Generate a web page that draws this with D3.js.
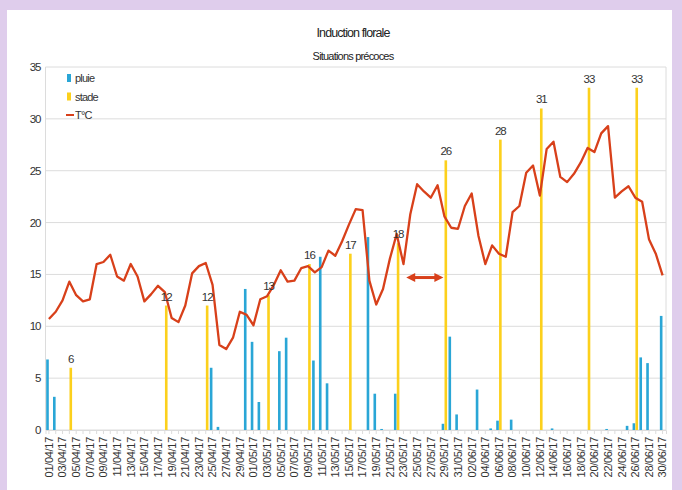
<!DOCTYPE html>
<html>
<head>
<meta charset="utf-8">
<script src="https://cdn.jsdelivr.net/npm/d3@7"></script>
<style>
  body { margin: 0; background: #dfcdec; }
  text { font-family: "Liberation Sans", Arial, sans-serif; }
</style>
</head>
<body>
<div id="vis"></div>
<script>
// Induction florale - situations précoces
const FRAME_WIDTH = 682;
const FRAME_HEIGHT = 490;
const MARGINS = {left: 45.5, right: 16, top: 67, bottom: 60};

const DATES = [
  "01/04/17","02/04/17","03/04/17","04/04/17","05/04/17","06/04/17","07/04/17","08/04/17","09/04/17","10/04/17",
  "11/04/17","12/04/17","13/04/17","14/04/17","15/04/17","16/04/17","17/04/17","18/04/17","19/04/17","20/04/17",
  "21/04/17","22/04/17","23/04/17","24/04/17","25/04/17","26/04/17","27/04/17","28/04/17","29/04/17","30/04/17",
  "01/05/17","02/05/17","03/05/17","04/05/17","05/05/17","06/05/17","07/05/17","08/05/17","09/05/17","10/05/17",
  "11/05/17","12/05/17","13/05/17","14/05/17","15/05/17","16/05/17","17/05/17","18/05/17","19/05/17","20/05/17",
  "21/05/17","22/05/17","23/05/17","24/05/17","25/05/17","26/05/17","27/05/17","28/05/17","29/05/17","30/05/17",
  "31/05/17","01/06/17","02/06/17","03/06/17","04/06/17","05/06/17","06/06/17","07/06/17","08/06/17","09/06/17",
  "10/06/17","11/06/17","12/06/17","13/06/17","14/06/17","15/06/17","16/06/17","17/06/17","18/06/17","19/06/17",
  "20/06/17","21/06/17","22/06/17","23/06/17","24/06/17","25/06/17","26/06/17","27/06/17","28/06/17","29/06/17",
  "30/06/17"
];

// pluie (mm)
const PLUIE = [
  6.8, 3.2, 0, 0, 0, 0, 0, 0, 0, 0,
  0, 0, 0, 0, 0, 0, 0, 0, 0, 0,
  0, 0, 0, 0, 6.0, 0.3, 0, 0, 0, 13.6,
  8.5, 2.7, 0, 0, 7.6, 8.9, 0, 0, 0, 6.7,
  16.7, 4.5, 0, 0, 0, 0, 0, 18.6, 3.5, 0.1,
  0, 3.5, 0, 0, 0, 0, 0, 0, 0.6, 9.0,
  1.5, 0, 0, 3.9, 0, 0.15, 0.9, 0, 1.0, 0,
  0, 0, 0, 0, 0.15, 0, 0, 0, 0, 0,
  0, 0, 0.1, 0, 0, 0.4, 0.65, 7.0, 6.45, 0,
  11.0
];

// stade
const STADE = [
  0, 0, 0, 6, 0, 0, 0, 0, 0, 0,
  0, 0, 0, 0, 0, 0, 0, 12, 0, 0,
  0, 0, 0, 12, 0, 0, 0, 0, 0, 0,
  0, 0, 13, 0, 0, 0, 0, 0, 16, 0,
  0, 0, 0, 0, 17, 0, 0, 0, 0, 0,
  0, 18, 0, 0, 0, 0, 0, 0, 26, 0,
  0, 0, 0, 0, 0, 0, 28, 0, 0, 0,
  0, 0, 31, 0, 0, 0, 0, 0, 0, 33,
  0, 0, 0, 0, 0, 0, 33, 0, 0, 0,
  0
];

// T°C
const TEMP = [
  10.7, 11.4, 12.5, 14.3, 13.0, 12.4, 12.6, 16.0, 16.2, 16.9,
  14.8, 14.4, 16.0, 14.8, 12.4, 13.1, 13.9, 13.3, 10.8, 10.4,
  12.0, 15.1, 15.8, 16.1, 14.0, 8.2, 7.8, 8.9, 11.4, 11.1,
  10.1, 12.6, 12.9, 14.0, 15.4, 14.3, 14.4, 15.6, 15.8, 15.2,
  15.7, 17.3, 16.8, 18.2, 19.8, 21.3, 21.2, 14.4, 12.1, 13.6,
  16.5, 18.9, 16.0, 20.8, 23.7, 23.0, 22.4, 23.6, 20.6, 19.5,
  19.4, 21.6, 22.8, 18.7, 16.0, 17.8, 17.0, 16.7, 21.0, 21.6,
  24.8, 25.5, 22.6, 27.1, 27.8, 24.4, 23.9, 24.7, 25.8, 27.2,
  26.8, 28.6, 29.3, 22.4, 23.0, 23.5, 22.4, 22.0, 18.4, 17.0,
  14.9
];

const Y_TICKS = [0, 5, 10, 15, 20, 25, 30, 35];
const SERIES = ["pluie", "stade", "T°C"];
const COLORS = {pluie: "#2aa6d6", stade: "#fcd01c", "T°C": "#d8401a"};

// arrow annotation (from / to / level)
const ARROW = {from: "23/05/17", to: "29/05/17", value: 14.7};

const VIS_WIDTH = FRAME_WIDTH - MARGINS.left - MARGINS.right;
const VIS_HEIGHT = FRAME_HEIGHT - MARGINS.top - MARGINS.bottom;

const rows = DATES.map((d, i) => ({date: d, pluie: PLUIE[i], stade: STADE[i], temp: TEMP[i]}));

const svg = d3.select("#vis")
    .append("svg")
    .attr("width", FRAME_WIDTH)
    .attr("height", FRAME_HEIGHT);

// white panel
svg.append("rect")
    .attr("x", 7).attr("y", 10)
    .attr("width", 665).attr("height", FRAME_HEIGHT - 10)
    .attr("fill", "#fff");

const X_SCALE = d3.scaleBand()
    .domain(DATES)
    .range([MARGINS.left, MARGINS.left + VIS_WIDTH]);

const X_INNER = d3.scaleBand()
    .domain(["pluie", "stade"])
    .range([X_SCALE.bandwidth() * 0.1, X_SCALE.bandwidth() * 0.9])
    .paddingInner(0.08);

const Y_SCALE = d3.scaleLinear()
    .domain([0, 35])
    .range([MARGINS.top + VIS_HEIGHT, MARGINS.top]);

// grid
svg.append("g")
    .selectAll("line")
    .data(Y_TICKS)
    .enter()
    .append("line")
    .attr("x1", MARGINS.left)
    .attr("x2", MARGINS.left + VIS_WIDTH)
    .attr("y1", d => Y_SCALE(d))
    .attr("y2", d => Y_SCALE(d))
    .attr("stroke", "#dcdcdc")
    .attr("stroke-width", 1);

// frame sides
svg.append("line")
    .attr("x1", MARGINS.left).attr("x2", MARGINS.left)
    .attr("y1", MARGINS.top).attr("y2", MARGINS.top + VIS_HEIGHT)
    .attr("stroke", "#dcdcdc");
svg.append("line")
    .attr("x1", MARGINS.left + VIS_WIDTH).attr("x2", MARGINS.left + VIS_WIDTH)
    .attr("y1", MARGINS.top).attr("y2", MARGINS.top + VIS_HEIGHT)
    .attr("stroke", "#dcdcdc");

// y axis labels
svg.append("g")
    .selectAll("text")
    .data(Y_TICKS)
    .enter()
    .append("text")
    .attr("x", MARGINS.left - 5)
    .attr("y", d => Y_SCALE(d) + 4)
    .attr("text-anchor", "end")
    .attr("font-size", "11.5px")
    .attr("letter-spacing", "-1px")
    .attr("fill", "#333")
    .text(d => d);

// x axis
const xAxis = svg.append("g")
    .attr("transform", "translate(0," + (MARGINS.top + VIS_HEIGHT) + ")")
    .call(d3.axisBottom(X_SCALE)
        .tickValues(DATES)
        .tickSize(4)
        .tickFormat((d, i) => i % 2 === 0 ? d : ""));
xAxis.select(".domain").attr("stroke", "#dcdcdc");
xAxis.selectAll(".tick line").attr("stroke", "#dcdcdc");
xAxis.selectAll(".tick text")
    .attr("font-size", "11px")
    .attr("font-family", "Liberation Sans, Arial, sans-serif")
    .attr("fill", "#333")
    .attr("letter-spacing", "-0.3px")
    .attr("text-anchor", "end")
    .attr("transform", "rotate(-90)")
    .attr("x", -7)
    .attr("y", 0)
    .attr("dy", "0.35em");

// pluie bars
svg.append("g")
    .selectAll("rect")
    .data(rows.filter(d => d.pluie > 0))
    .enter()
    .append("rect")
    .attr("x", d => X_SCALE(d.date) + X_INNER("pluie"))
    .attr("width", X_INNER.bandwidth())
    .attr("y", d => Y_SCALE(d.pluie))
    .attr("height", d => Y_SCALE(0) - Y_SCALE(d.pluie))
    .attr("fill", COLORS.pluie);

// stade bars
svg.append("g")
    .selectAll("rect")
    .data(rows.filter(d => d.stade > 0))
    .enter()
    .append("rect")
    .attr("x", d => X_SCALE(d.date) + X_INNER("stade"))
    .attr("width", X_INNER.bandwidth())
    .attr("y", d => Y_SCALE(d.stade))
    .attr("height", d => Y_SCALE(0) - Y_SCALE(d.stade))
    .attr("fill", COLORS.stade);

// temperature line
const line = d3.line()
    .x(d => X_SCALE(d.date) + X_SCALE.bandwidth() / 2)
    .y(d => Y_SCALE(d.temp));

svg.append("path")
    .datum(rows)
    .attr("d", line)
    .attr("fill", "none")
    .attr("stroke", COLORS["T°C"])
    .attr("stroke-width", 2.3)
    .attr("stroke-linejoin", "round");

// stade value labels
svg.append("g")
    .selectAll("text")
    .data(rows.filter(d => d.stade > 0))
    .enter()
    .append("text")
    .attr("x", d => X_SCALE(d.date) + X_INNER("stade") + X_INNER.bandwidth() / 2)
    .attr("y", d => Y_SCALE(d.stade) - 5)
    .attr("text-anchor", "middle")
    .attr("font-size", "11.5px")
    .attr("letter-spacing", "-1px")
    .attr("fill", "#333")
    .text(d => d.stade);

// double arrow
const ax1 = X_SCALE(ARROW.from) + X_SCALE.bandwidth() * 0.9;
const ax2 = X_SCALE(ARROW.to) + X_SCALE.bandwidth() * 0.35;
const ay = Y_SCALE(ARROW.value);
svg.append("line")
    .attr("x1", ax1 + 6).attr("x2", ax2 - 6)
    .attr("y1", ay).attr("y2", ay)
    .attr("stroke", COLORS["T°C"])
    .attr("stroke-width", 3);
svg.append("path")
    .attr("d", "M" + ax1 + "," + ay + "L" + (ax1 + 9) + "," + (ay - 4.5) + "L" + (ax1 + 9) + "," + (ay + 4.5) + "Z"
        + "M" + ax2 + "," + ay + "L" + (ax2 - 9) + "," + (ay - 4.5) + "L" + (ax2 - 9) + "," + (ay + 4.5) + "Z")
    .attr("fill", COLORS["T°C"]);

// legend
const legend = svg.append("g")
    .attr("transform", "translate(67,73)");
SERIES.forEach((s, i) => {
    const g = legend.append("g").attr("transform", "translate(0," + (i * 18.5) + ")");
    if (s === "T°C") {
        g.append("rect").attr("x", -1).attr("y", 4).attr("width", 8).attr("height", 2).attr("fill", COLORS[s]);
    } else {
        g.append("rect").attr("x", 0).attr("y", 1).attr("width", 4).attr("height", 8).attr("fill", COLORS[s]);
    }
    g.append("text")
        .attr("x", 8)
        .attr("y", 9)
        .attr("font-size", "11px")
        .attr("letter-spacing", "-0.8px")
        .attr("fill", "#333")
        .text(s);
});

// titles
svg.append("text")
    .attr("x", 353).attr("y", 37)
    .attr("text-anchor", "middle")
    .attr("font-size", "12.5px")
    .attr("letter-spacing", "-0.9px")
    .attr("fill", "#222")
    .text("Induction florale");
svg.append("text")
    .attr("x", 353).attr("y", 60)
    .attr("text-anchor", "middle")
    .attr("font-size", "11px")
    .attr("letter-spacing", "-0.8px")
    .attr("fill", "#222")
    .text("Situations précoces");
</script>
</body>
</html>
